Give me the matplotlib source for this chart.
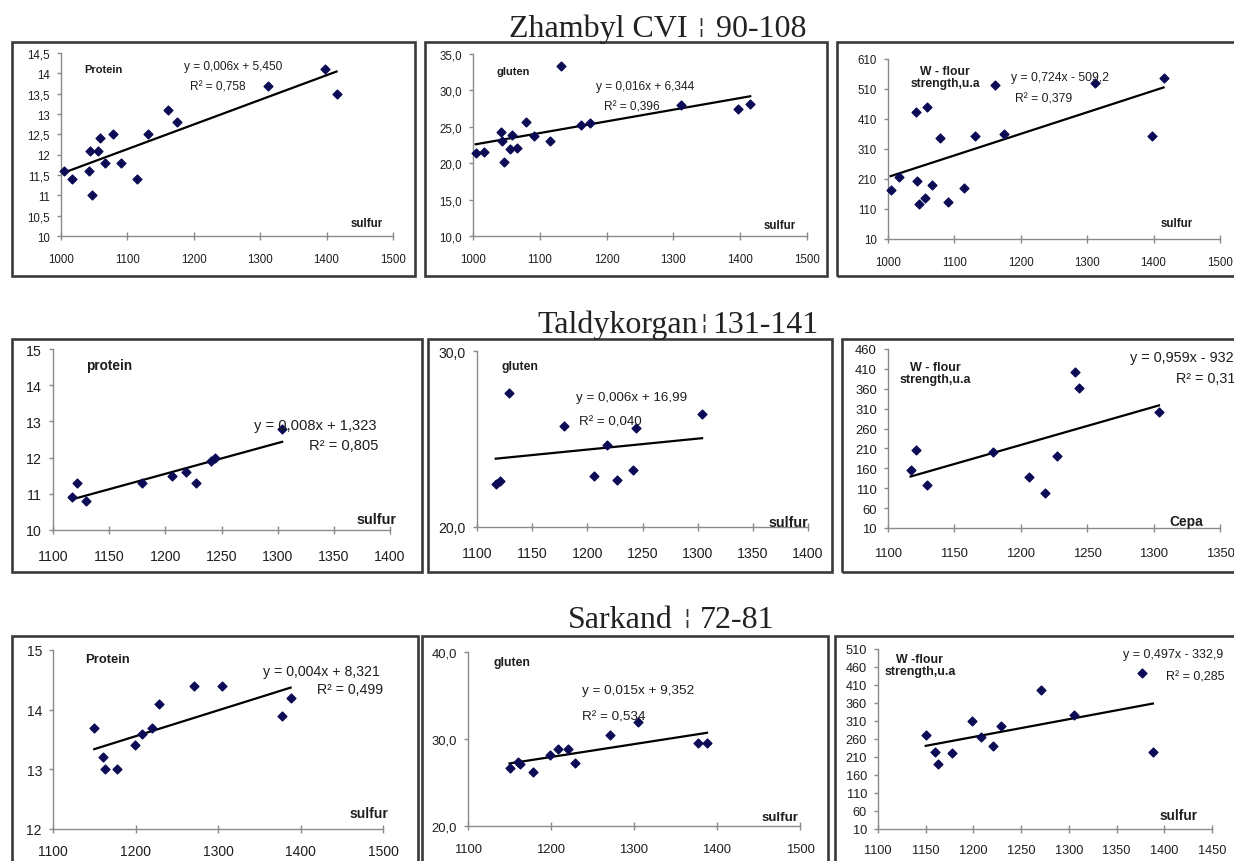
import numpy as np
import matplotlib
matplotlib.use("Agg")
import matplotlib.pyplot as plt
from matplotlib.patches import Rectangle

# ---------------- data ----------------
zhambyl_sulfur = [1004, 1016, 1042, 1044, 1046, 1055, 1059, 1066, 1079, 1091, 1115, 1131, 1161, 1175, 1311, 1397, 1415]
zhambyl_protein = [11.6, 11.4, 11.6, 12.1, 11.0, 12.1, 12.4, 11.8, 12.5, 11.8, 11.4, 12.5, 13.1, 12.8, 13.7, 14.1, 13.5]
zhambyl_gluten = [21.4, 21.6, 24.3, 23.0, 20.2, 22.0, 23.9, 22.1, 25.6, 23.7, 23.1, 33.3, 25.2, 25.5, 28.0, 27.4, 28.2]
zhambyl_w = [174, 218, 433, 204, 126, 146, 451, 191, 346, 132, 180, 355, 525, 361, 530, 352, 547]

taldy_sulfur = [1117, 1121, 1129, 1179, 1206, 1218, 1227, 1241, 1244, 1304]
taldy_protein = [10.9, 11.3, 10.8, 11.3, 11.5, 11.6, 11.3, 11.9, 12.0, 12.8]
taldy_gluten = [22.45, 22.6, 27.6, 25.75, 22.9, 24.65, 22.65, 23.25, 25.65, 26.4]
taldy_w = [157, 207, 117, 201, 137, 98, 192, 401, 363, 301]

sarkand_sulfur = [1150, 1160, 1163, 1178, 1199, 1208, 1220, 1229, 1271, 1305, 1377, 1388]
sarkand_protein = [13.7, 13.2, 13.0, 13.0, 13.4, 13.6, 13.7, 14.1, 14.4, 14.4, 13.9, 14.2]
sarkand_gluten = [26.7, 27.3, 27.1, 26.2, 28.2, 28.8, 28.9, 27.2, 30.5, 31.9, 29.5, 29.5]
sarkand_w = [272, 224, 191, 222, 309, 265, 240, 297, 396, 328, 442, 223]

row_titles = ["Zhambyl CVI ¦ 90-108", "Taldykorgan¦ 131-141", "Sarkand ¦ 72-81"]

equations = [["y = 0,006x + 5,450", "y = 0,016x + 6,344", "y = 0,724x - 509,2"],
             ["y = 0,008x + 1,323", "y = 0,006x + 16,99", "y = 0,959x - 932,1"],
             ["y = 0,004x + 8,321", "y = 0,015x + 9,352", "y = 0,497x - 332,9"]]
r2_texts = [["R² = 0,758", "R² = 0,396", "R² = 0,379"],
            ["R² = 0,805", "R² = 0,040", "R² = 0,318"],
            ["R² = 0,499", "R² = 0,534", "R² = 0,285"]]
series_names = [["Protein", "gluten", "W - flour\nstrength,u.a"],
                ["protein", "gluten", "W - flour\nstrength,u.a"],
                ["Protein", "gluten", "W -flour\nstrength,u.a"]]
x_names = [["sulfur", "sulfur", "sulfur"],
           ["sulfur", "sulfur", "Cepa"],
           ["sulfur", "sulfur", "sulfur"]]

# tick values and labels
xt_1000_1500 = [1000, 1100, 1200, 1300, 1400, 1500]
xt_1100_1400 = [1100, 1150, 1200, 1250, 1300, 1350, 1400]
xt_1100_1350 = [1100, 1150, 1200, 1250, 1300, 1350]
xt_1100_1500 = [1100, 1200, 1300, 1400, 1500]
xt_1100_1450 = [1100, 1150, 1200, 1250, 1300, 1350, 1400, 1450]

yt_zh_protein = [10, 10.5, 11, 11.5, 12, 12.5, 13, 13.5, 14, 14.5]
yl_zh_protein = ["10", "10,5", "11", "11,5", "12", "12,5", "13", "13,5", "14", "14,5"]
yt_zh_gluten = [10, 15, 20, 25, 30, 35]
yl_zh_gluten = ["10,0", "15,0", "20,0", "25,0", "30,0", "35,0"]
yt_zh_w = [10, 110, 210, 310, 410, 510, 610]
yt_ta_protein = [10, 11, 12, 13, 14, 15]
yt_ta_gluten = [20, 30]
yl_ta_gluten = ["20,0", "30,0"]
yt_ta_w = [10, 60, 110, 160, 210, 260, 310, 360, 410, 460]
yt_sa_protein = [12, 13, 14, 15]
yt_sa_gluten = [20, 30, 40]
yl_sa_gluten = ["20,0", "30,0", "40,0"]
yt_sa_w = [10, 60, 110, 160, 210, 260, 310, 360, 410, 460, 510]

# ---------------- figure ----------------
W_PX, H_PX = 1234, 862
fig = plt.figure(figsize=(W_PX / 100, H_PX / 100), dpi=100)
fig.patch.set_facecolor("white")
SANS = ["Liberation Sans", "DejaVu Sans"]
SERIF = ["Liberation Serif", "DejaVu Serif"]
MARKER_COLOR = "#0b0b55"
TXT = "#1e1e1e"


def fx(x):
    return x / W_PX


def fy(y):
    return 1 - y / H_PX


def frame(x0, y0, x1, y1):
    fig.add_artist(Rectangle((fx(x0), fy(y1)), fx(x1) - fx(x0), fy(y0) - fy(y1),
                             transform=fig.transFigure, fill=False,
                             ec="#3a3a3a", lw=1.9, zorder=0))


def ftext(x, y, s, size, bold=False, ha="center", color=TXT, family=SANS, va="center"):
    fig.text(fx(x), fy(y), s, fontsize=size, ha=ha, va=va,
             fontweight="bold" if bold else "normal", color=color,
             family=family, linespacing=1.0)


def title(s, left_end, bar_x, right_start, baseline):
    left, right = [p.strip() for p in s.split("¦")]
    ftext(left_end, baseline, left, 23, ha="right", va="baseline", family=SERIF, color="#222222")
    ftext(bar_x, baseline - 10, "¦", 15, ha="center", va="center",
          family=["DejaVu Sans"], color="#333333")
    ftext(right_start, baseline, right, 23, ha="left", va="baseline", family=SERIF, color="#222222")


def panel(box, xs, ys, xticks, xlabels, yticks, ylabels, fs, xpad):
    x0, y0, x1, y1 = box
    ax = fig.add_axes([fx(x0), fy(y1), fx(x1) - fx(x0), fy(y0) - fy(y1)])
    ax.patch.set_alpha(0)
    ax.scatter(xs, ys, marker="D", s=20, color=MARKER_COLOR, zorder=3, clip_on=False)
    coef = np.polyfit(xs, ys, 1)
    xl = np.array([min(xs), max(xs)])
    ax.plot(xl, np.polyval(coef, xl), color="black", lw=1.6, zorder=2)
    ax.set_xlim(xticks[0], xticks[-1])
    ax.set_ylim(yticks[0], yticks[-1])
    ax.set_xticks(xticks)
    ax.set_xticklabels(xlabels)
    ax.set_yticks(yticks)
    ax.set_yticklabels(ylabels)
    for s in ["top", "right"]:
        ax.spines[s].set_visible(False)
    for s in ["left", "bottom"]:
        ax.spines[s].set_color("#8a8a8a")
        ax.spines[s].set_linewidth(1.0)
    ax.tick_params(axis="x", direction="inout", length=6, width=1, color="#8a8a8a",
                   labelsize=fs, labelcolor=TXT, pad=xpad)
    ax.tick_params(axis="y", direction="out", length=3, width=1, color="#8a8a8a",
                   labelsize=fs, labelcolor=TXT, pad=5)
    for lab in ax.get_xticklabels() + ax.get_yticklabels():
        lab.set_family(SANS)
    return ax


def s_(v):
    return [str(t) for t in v]


# ---- Row 1: Zhambyl ----
title(row_titles[0], 688, 701, 716, 37)
frame(12, 43, 415, 277)
frame(425, 43, 827, 277)
frame(837, 43, 1240, 277)
panel((61, 54, 393, 237), zhambyl_sulfur, zhambyl_protein, xt_1000_1500, s_(xt_1000_1500),
      yt_zh_protein, yl_zh_protein, 8.3, 9)
panel((473, 55, 807, 237), zhambyl_sulfur, zhambyl_gluten, xt_1000_1500, s_(xt_1000_1500),
      yt_zh_gluten, yl_zh_gluten, 8.3, 9)
panel((888, 60, 1220, 240), zhambyl_sulfur, zhambyl_w, xt_1000_1500, s_(xt_1000_1500),
      yt_zh_w, s_(yt_zh_w), 8.3, 9)

ftext(103, 70, series_names[0][0], 8, bold=True)
ftext(233, 67, equations[0][0], 8.6)
ftext(218, 88, r2_texts[0][0], 8.6)
ftext(367, 224, x_names[0][0], 8.3, bold=True)

ftext(513, 72, series_names[0][1], 7.9, bold=True)
ftext(645, 87, equations[0][1], 8.6)
ftext(632, 108, r2_texts[0][1], 8.6)
ftext(780, 226, x_names[0][1], 8.3, bold=True)

ftext(945, 78, series_names[0][2], 8.7, bold=True)
ftext(1060, 78, equations[0][2], 8.7)
ftext(1044, 99, r2_texts[0][2], 8.7)
ftext(1177, 224, x_names[0][2], 8.3, bold=True)

# ---- Row 2: Taldykorgan ----
title(row_titles[1], 698, 704, 712, 333)
frame(12, 340, 422, 573)
frame(428, 340, 832, 573)
frame(842, 340, 1240, 573)
panel((53, 350, 390, 531), taldy_sulfur, taldy_protein, xt_1100_1400, s_(xt_1100_1400),
      yt_ta_protein, s_(yt_ta_protein), 10.2, 10.5)
panel((477, 352, 808, 528), taldy_sulfur, taldy_gluten, xt_1100_1400, s_(xt_1100_1400),
      yt_ta_gluten, yl_ta_gluten, 10.2, 10.5)
panel((888, 350, 1220, 529), taldy_sulfur, taldy_w, xt_1100_1350, s_(xt_1100_1350),
      yt_ta_w, s_(yt_ta_w), 9.4, 10.5)

ftext(109, 366, series_names[1][0], 9.8, bold=True)
ftext(315, 426, equations[1][0], 10.6)
ftext(344, 446, r2_texts[1][0], 10.6)
ftext(377, 520, x_names[1][0], 10.4, bold=True)

ftext(520, 367, series_names[1][1], 8.8, bold=True)
ftext(632, 398, equations[1][1], 9.6)
ftext(610, 423, r2_texts[1][1], 9.6)
ftext(788, 523, x_names[1][1], 10.3, bold=True)

ftext(935, 374, series_names[1][2], 9.0, bold=True)
ftext(1130, 358, equations[1][2], 10.4, ha="left")
ftext(1176, 379, r2_texts[1][2], 10.4, ha="left")
ftext(1186, 522, x_names[1][2], 9.9, bold=True)

# ---- Row 3: Sarkand ----
title(row_titles[2], 673, 687, 700, 628)
frame(12, 637, 418, 880)
frame(422, 637, 828, 880)
frame(835, 637, 1240, 880)
panel((53, 651, 383, 830), sarkand_sulfur, sarkand_protein, xt_1100_1500, s_(xt_1100_1500),
      yt_sa_protein, s_(yt_sa_protein), 10.0, 8)
panel((468, 653, 800, 827), sarkand_sulfur, sarkand_gluten, xt_1100_1500, s_(xt_1100_1500),
      yt_sa_gluten, yl_sa_gluten, 9.4, 9)
panel((878, 650, 1212, 830), sarkand_sulfur, sarkand_w, xt_1100_1450, s_(xt_1100_1450),
      yt_sa_w, s_(yt_sa_w), 9.2, 8)

ftext(107, 660, series_names[2][0], 9.4, bold=True)
ftext(321, 672, equations[2][0], 10.2)
ftext(350, 690, r2_texts[2][0], 10.2)
ftext(369, 814, x_names[2][0], 10.1, bold=True)

ftext(512, 663, series_names[2][1], 8.8, bold=True)
ftext(638, 691, equations[2][1], 9.7)
ftext(614, 718, r2_texts[2][1], 9.7)
ftext(780, 818, x_names[2][1], 9.5, bold=True)

ftext(920, 666, series_names[2][2], 8.9, bold=True)
ftext(1173, 655, equations[2][2], 9.0)
ftext(1195, 678, r2_texts[2][2], 9.0)
ftext(1179, 816, x_names[2][2], 9.8, bold=True)

fig.savefig("out.png", dpi=100, facecolor="white")
